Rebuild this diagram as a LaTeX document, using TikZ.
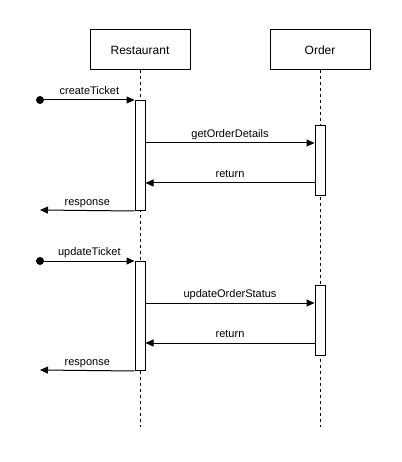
\documentclass[tikz,border=0pt]{standalone}
\usepackage{fontspec}
\setmainfont{Liberation Sans}
\usetikzlibrary{arrows.meta,positioning}

\tikzset{
  party/.style={draw, line width=1pt, minimum width=100pt, minimum height=40pt, inner sep=0pt, font=\fontsize{12}{14}\selectfont},
  life/.style={line width=1pt, dash pattern=on 3pt off 3pt},
  act/.style={draw, fill=white, line width=1pt, minimum width=10pt, inner sep=0pt, anchor=north},
  msg/.style={line width=1pt, -{Triangle[length=8pt,width=7pt]}},
  lbl/.style={font=\fontsize{11}{13}\selectfont, anchor=base, yshift=5.5pt, inner sep=0pt},
  startdot/.style={circle, fill, minimum size=8pt, inner sep=0pt}
}

\begin{document}
\begin{tikzpicture}[x=1pt,y=-1pt]
\useasboundingbox (0,0) rectangle (401,462);

% participants and lifelines
\node[party] (rest) at (140,50) {Restaurant};
\node[party] (order) at (320,50) {Order};
\coordinate (restend) at (140,427);
\coordinate (orderend) at (320,427);
\draw[life] (rest) -- (restend);
\draw[life] (order) -- (orderend);

% activations
\node[act, minimum height=110pt] (ra1) at (140,100) {};
\node[act, minimum height=70pt] (oa1) at (320,125) {};
\node[act, minimum height=109pt] (ra2) at (140,261) {};
\node[act, minimum height=70pt] (oa2) at (320,285) {};

% createTicket
\node[startdot] (s1) at (40,100) {};
\draw[msg] (s1) -- node[lbl]{createTicket} (ra1.north west);
\coordinate (r1) at (0,143);
\draw[msg] (ra1.east |- r1) -- node[lbl]{getOrderDetails} (oa1.west |- r1);
\coordinate (r2) at (0,183);
\draw[msg] (oa1.west |- r2) -- node[lbl]{return} (ra1.east |- r2);
\coordinate (e1) at (40,210);
\draw[msg] (ra1.south west) -- node[lbl]{response} (e1);

% updateTicket
\node[startdot] (s2) at (40,261) {};
\draw[msg] (s2) -- node[lbl]{updateTicket} (ra2.north west);
\coordinate (r3) at (0,303);
\draw[msg] (ra2.east |- r3) -- node[lbl]{updateOrderStatus} (oa2.west |- r3);
\coordinate (r4) at (0,343);
\draw[msg] (oa2.west |- r4) -- node[lbl]{return} (ra2.east |- r4);
\coordinate (e2) at (40,370);
\draw[msg] (ra2.south west) -- node[lbl]{response} (e2);
\end{tikzpicture}
\end{document}
